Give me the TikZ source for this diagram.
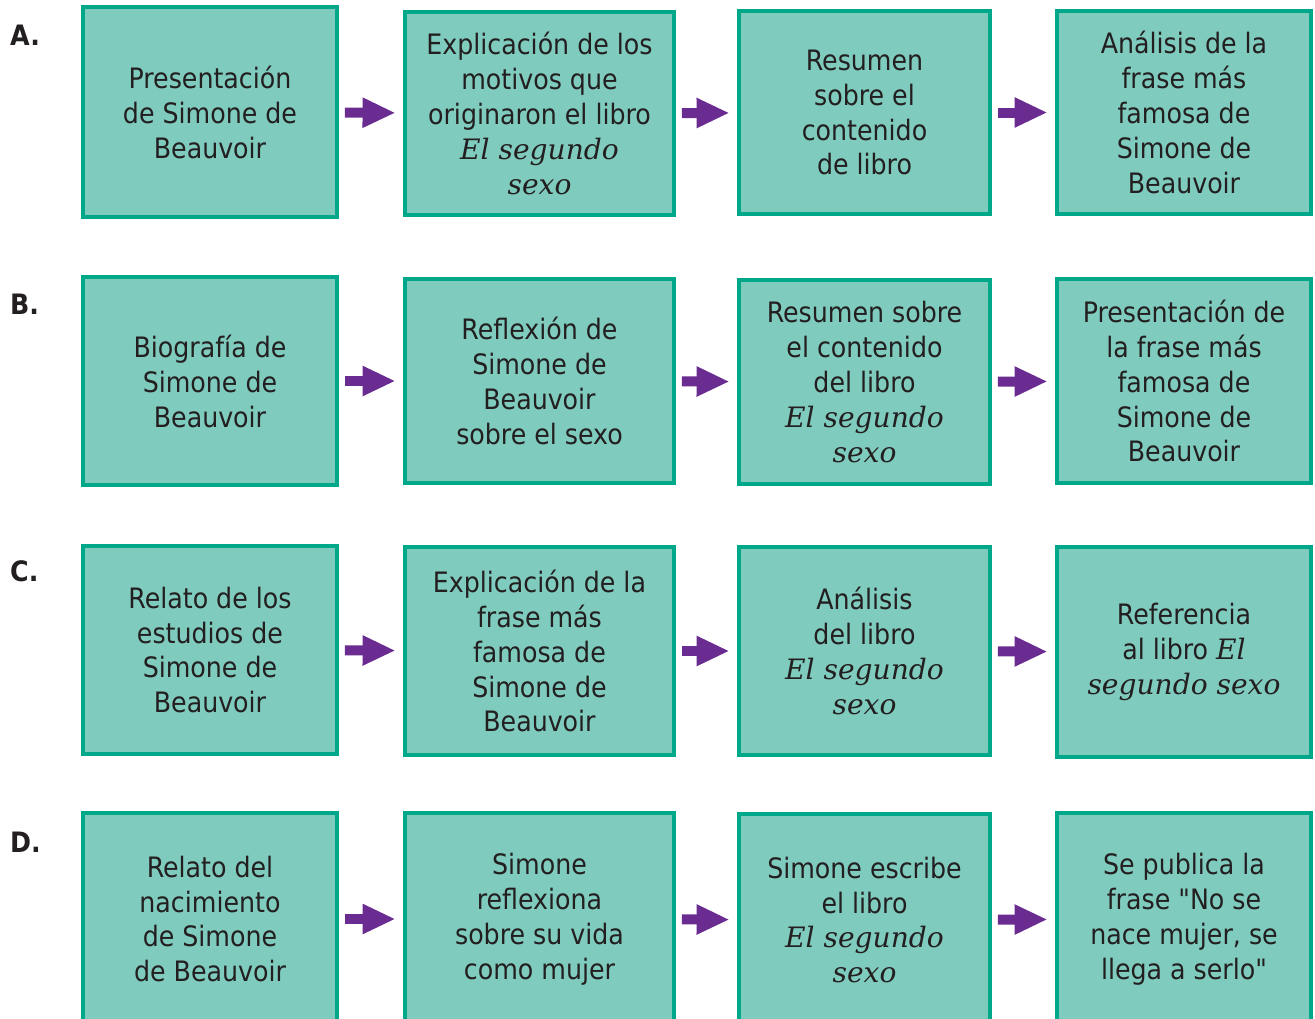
\documentclass[tikz,border=0pt]{standalone}
\usepackage{fontspec}
\setmainfont{DejaVu Sans Condensed}
\newfontfamily\obra{DejaVu Serif}
\usetikzlibrary{arrows.meta}

\definecolor{verdeborde}{HTML}{00A88A}
\definecolor{verdefondo}{HTML}{7FCCBE}
\definecolor{morado}{HTML}{6A2C91}
\definecolor{tinta}{HTML}{231F20}
\newcommand{\titulo}[1]{{\obra\itshape #1}}

\tikzset{
	flecha/.style={color=morado,line width=0.2cm,-{Triangle[length=0.66cm,width=0.56cm]},shorten <=0.12cm,shorten >=0.15cm},
	etiqueta/.style={anchor=west,text=tinta,font=\fontsize{16pt}{19.9pt}\selectfont\bfseries},
	colA/.style={minimum width=5.08cm},
	colB/.style={minimum width=5.38cm},
	colC/.style={minimum width=5.02cm},
	colD/.style={minimum width=5.08cm}
}

\begin{document}
\begin{tikzpicture}[x=0.02cm,y=-0.02cm]
				\useasboundingbox (0,0) rectangle (1315,1018);
				\clip (0,0) rectangle (1315,1018);
				
				\node[etiqueta] (etqA) at (4,35) {A.};
				\node[etiqueta] (etqB) at (4,304) {B.};
				\node[etiqueta] (etqC) at (4,571) {C.};
				\node[etiqueta] (etqD) at (4,842) {D.};
				\begin{scope}[every node/.style={rectangle,draw=verdeborde,line width=0.08cm,fill=verdefondo,
						align=center,inner sep=0pt,text=tinta,font=\fontsize{16pt}{19.9pt}\selectfont}]
					% fila A
					\node[colA,minimum height=4.2cm] (a1) at (210,112) {Presentación\\de Simone de\\Beauvoir};
					\node[colB,minimum height=4.06cm] (a2) at (539.5,113.5) {Explicación de los\\motivos que\\originaron el libro\\\titulo{El segundo}\\\titulo{sexo}};
					\node[colC,minimum height=4.06cm] (a3) at (864.5,112.5) {Resumen\\sobre el\\contenido\\de libro};
					\node[colD,minimum height=4.06cm] (a4) at (1184,112.5) {Análisis de la\\frase más\\famosa de\\Simone de\\Beauvoir};
					% fila B
					\node[colA,minimum height=4.16cm] (b1) at (210,381) {Biografía de\\Simone de\\Beauvoir};
					\node[colB,minimum height=4.08cm] (b2) at (539.5,381) {Reflexión de\\Simone de\\Beauvoir\\sobre el sexo};
					\node[colC,minimum height=4.08cm] (b3) at (864.5,382) {Resumen sobre\\el contenido\\del libro\\\titulo{El segundo}\\\titulo{sexo}};
					\node[colD,minimum height=4.08cm] (b4) at (1184,381) {Presentación de\\la frase más\\famosa de\\Simone de\\Beauvoir};
					% fila C
					\node[colA,minimum height=4.16cm] (c1) at (210,650) {Relato de los\\estudios de\\Simone de\\Beauvoir};
					\node[colB,minimum height=4.16cm] (c2) at (539.5,651) {Explicación de la\\frase más\\famosa de\\Simone de\\Beauvoir};
					\node[colC,minimum height=4.16cm] (c3) at (864.5,651) {Análisis\\del libro\\\titulo{El segundo}\\\titulo{sexo}};
					\node[colD,minimum height=4.2cm] (c4) at (1184,652) {Referencia\\al libro \titulo{El}\\\titulo{segundo sexo}};
					% fila D (cortada abajo)
					\node[colA,minimum height=4.24cm] (d1) at (210,919) {Relato del\\nacimiento\\de Simone\\de Beauvoir};
					\node[colB,minimum height=4.24cm] (d2) at (539.5,919) {Simone\\reflexiona\\sobre su vida\\como mujer};
					\node[colC,minimum height=4.24cm] (d3) at (864.5,920) {Simone escribe\\el libro\\\titulo{El segundo}\\\titulo{sexo}};
					\node[colD,minimum height=4.24cm] (d4) at (1184,919) {Se publica la\\frase \textquotedbl No se\\nace mujer, se\\llega a serlo\textquotedbl};
				\end{scope}
				
				\path[flecha] (a1) edge (a2) (a2) edge (a3) (a3) edge (a4);
				\path[flecha] (b1) edge (b2) (b2) edge (b3) (b3) edge (b4);
				\path[flecha] (c1) edge (c2) (c2) edge (c3) (c3) edge (c4);
				\path[flecha] (d1) edge (d2) (d2) edge (d3) (d3) edge (d4);
			\end{tikzpicture}
\end{document}
